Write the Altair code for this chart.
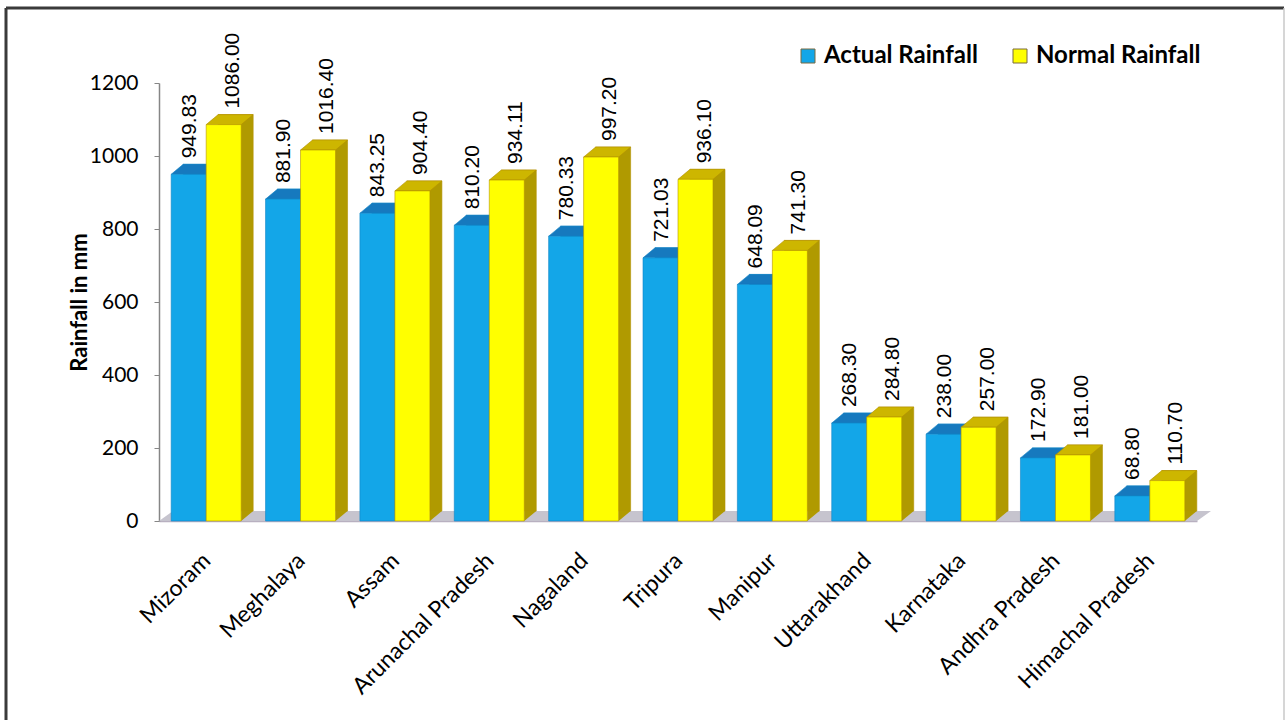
import altair as alt
import pandas as pd

# --- data -------------------------------------------------------------
states = ["Mizoram", "Meghalaya", "Assam", "Arunachal Pradesh", "Nagaland",
          "Tripura", "Manipur", "Uttarakhand", "Karnataka", "Andhra Pradesh",
          "Himachal Pradesh"]
actual = [949.83, 881.90, 843.25, 810.20, 780.33, 721.03, 648.09,
          268.30, 238.00, 172.90, 68.80]
normal = [1086.00, 1016.40, 904.40, 934.11, 997.20, 936.10, 741.30,
          284.80, 257.00, 181.00, 110.70]
series = ["Actual Rainfall", "Normal Rainfall"]
y_ticks = [0, 200, 400, 600, 800, 1000, 1200]

df = pd.DataFrame({
    "state": states * 2,
    "series": [series[0]] * len(states) + [series[1]] * len(states),
    "value": actual + normal,
})

# --- layout / style ----------------------------------------------------
PAGE_W, PAGE_H = 1285, 720
PL, PT = 159, 83          # plot origin on the page
W, H = 1038, 438          # plot area
BW = 35                   # width of one bar face
DX, DY = 12, 10           # 3-D depth of the boxes
h = BW / 2

FONT = "Lato"
NUM_FONT = "Liberation Sans"

style = {
    series[0]: dict(off=-h, front="#13a6e8", top="#1679be", side="#0f66a3",
                    edge="#1184c6", label_dy=1),
    series[1]: dict(off=h, front="#ffff00", top="#cdb600", side="#b09a00",
                    edge="#b39000", label_dy=9),
}

x_enc = alt.X(
    "state:N", sort=states, title=None,
    scale=alt.Scale(paddingInner=0.25, paddingOuter=0.125),
    axis=alt.Axis(labelAngle=-45, labelAlign="right", labelBaseline="top",
                  labelFont=FONT, labelFontSize=23, labelColor="#000000",
                  labelPadding=28, labelOffset=-7, labelLimit=400,
                  ticks=False, domain=True,
                  domainColor="#b8b0c0", domainWidth=1.5),
)
y_enc = alt.Y(
    "value:Q", title="Rainfall in mm",
    scale=alt.Scale(domain=[0, 1200], nice=False),
    axis=alt.Axis(values=y_ticks, format="d", grid=False, labelFont=FONT,
                  labelFontSize=21, labelColor="#000000", labelPadding=16,
                  tickSize=5, tickColor="#868686", domainColor="#868686",
                  domainWidth=1.5, titleFont=FONT, titleFontSize=22,
                  titleFontWeight="bold", titleColor="#000000",
                  titleX=-68, titleY=H / 2),
)

top_path = f"M{-h},0L{h},0L{h + DX},{-DY}L{-h + DX},{-DY}Z"
tri_path = f"M{h},0L{h},{-DY}L{h + DX},{-DY}Z"
floor_path = f"M0,0L{W},0L{W + DX + 2},{-DY}L{DX + 2},{-DY}Z"

one = alt.Data(values=[{}])

# floor of the 3-D plot
floor = alt.Chart(one).mark_point(
    shape=floor_path, size=4, filled=True, opacity=1,
    fill="#c6c4ce", strokeWidth=0,
).encode(x=alt.value(0), y=alt.Y(datum=0))

layers = [floor]
for s in series:
    st = style[s]
    base = alt.Chart(df).transform_filter(alt.datum.series == s)
    side = base.mark_bar(
        width=BW, xOffset=st["off"] + DX, yOffset=-DY, y2Offset=-DY,
        color=st["side"], stroke=st["edge"], strokeWidth=0.6,
    ).encode(x=x_enc, y=y_enc, y2=alt.Y2(datum=0))
    tri = base.mark_point(
        shape=tri_path, size=4, filled=True, opacity=1, xOffset=st["off"],
        fill=st["side"], strokeWidth=0,
    ).encode(x=x_enc, y=alt.Y(datum=0))
    top = base.mark_point(
        shape=top_path, size=4, filled=True, opacity=1, xOffset=st["off"],
        fill=st["top"], stroke=st["edge"], strokeWidth=0.6,
    ).encode(x=x_enc, y=y_enc)
    front = base.mark_bar(
        width=BW, xOffset=st["off"], stroke=st["edge"], strokeWidth=0.6,
    ).encode(
        x=x_enc, y=y_enc, y2=alt.Y2(datum=0),
        color=alt.Color(
            "series:N", title=None,
            scale=alt.Scale(domain=series,
                            range=[style[k]["front"] for k in series]),
            legend=alt.Legend(
                orient="none", legendX=637, legendY=-39, direction="horizontal",
                symbolType="square", symbolSize=196, symbolStrokeWidth=1,
                symbolStrokeColor="#7a6a40", labelFont=FONT, labelFontSize=24,
                labelFontWeight="bold", labelColor="#000000", labelOffset=4,
                labelLimit=400, columnPadding=30, padding=0,
            ),
        ),
    )
    labels = base.mark_text(
        angle=270, align="left", baseline="middle", xOffset=st["off"],
        dx=DY + 6, dy=st["label_dy"], font=NUM_FONT, fontSize=21,
        color="#000000",
    ).encode(x=x_enc, y=y_enc, text=alt.Text("value:Q", format=".2f"))
    layers += [side, tri, top, front, labels]

# frame around the whole figure
frame_l = alt.Chart(one).mark_rule(color="#3a3a3a", strokeWidth=3).encode(
    x=alt.value(6 - PL), y=alt.value(8 - PT), y2=alt.value(PAGE_H - PT + 5))
frame_t = alt.Chart(one).mark_rule(color="#3a3a3a", strokeWidth=3).encode(
    x=alt.value(6 - PL), x2=alt.value(PAGE_W - PL - 1), y=alt.value(8 - PT))
frame_r = alt.Chart(one).mark_rule(color="#c8c8c8", strokeWidth=1.5).encode(
    x=alt.value(PAGE_W - PL - 1), y=alt.value(8 - PT),
    y2=alt.value(PAGE_H - PT + 5))
layers += [frame_l, frame_t, frame_r]

chart = alt.layer(*layers).properties(
    width=W, height=H,
    autosize=alt.AutoSizeParams(type="none"),
    padding={"left": PL, "top": PT, "right": PAGE_W - PL - W,
             "bottom": PAGE_H - PT - H},
    background="#ffffff",
).configure_view(strokeWidth=0)

chart.save("out.html", embed_options={"renderer": "svg", "actions": False})
